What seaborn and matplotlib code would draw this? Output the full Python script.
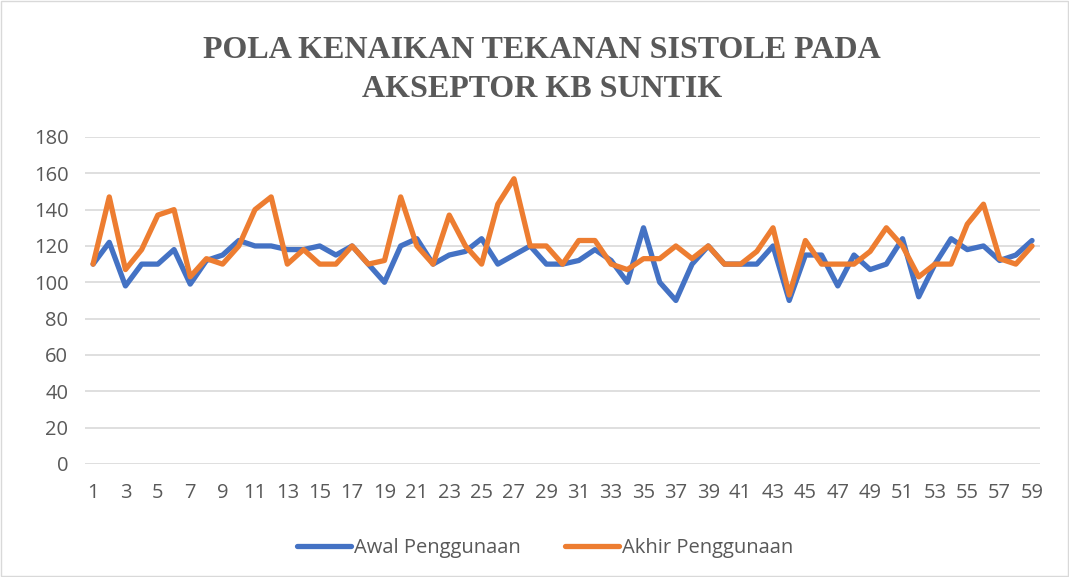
import pandas as pd
import matplotlib.pyplot as plt
import seaborn as sns
from matplotlib.patches import Rectangle

# Data
responden = list(range(1, 60))
awal = [110, 122, 98, 110, 110, 118, 99, 112, 115, 123,
        120, 120, 118, 118, 120, 115, 120, 110, 100, 120,
        124, 110, 115, 117, 124, 110, 115, 120, 110, 110,
        112, 118, 112, 100, 130, 100, 90, 110, 120, 110,
        110, 110, 120, 90, 115, 115, 98, 115, 107, 110,
        124, 92, 110, 124, 118, 120, 112, 115, 123]
akhir = [110, 147, 107, 118, 137, 140, 103, 113, 110, 120,
         140, 147, 110, 118, 110, 110, 120, 110, 112, 147,
         120, 110, 137, 120, 110, 143, 157, 120, 120, 110,
         123, 123, 110, 107, 113, 113, 120, 113, 120, 110,
         110, 117, 130, 93, 123, 110, 110, 110, 117, 130,
         120, 103, 110, 110, 132, 143, 113, 110, 120]
series_names = ['Awal Penggunaan', 'Akhir Penggunaan']
colors = ['#4472C4', '#ED7D31']

df = pd.DataFrame({'Responden': responden * 2,
                   'Tekanan': awal + akhir,
                   'Seri': [series_names[0]] * 59 + [series_names[1]] * 59})

sns.set_style('white')
plt.rcParams['font.family'] = ['Open Sans', 'DejaVu Sans']

fig = plt.figure(figsize=(10.69, 5.77), dpi=100)
ax = fig.add_axes([0.0795, 0.196, 0.8935, 0.5666])

sns.lineplot(data=df, x='Responden', y='Tekanan', hue='Seri',
             palette=colors, linewidth=3.8, ax=ax, legend=False)

ax.set_xlim(0.5, 59.5)
ax.set_ylim(0, 180)
ax.set_yticks(range(0, 181, 20))
ax.set_xticks(responden[::2])
ax.grid(axis='y', color='#D9D9D9', linewidth=1.2)
ax.set_axisbelow(True)
for s in ax.spines.values():
    s.set_visible(False)
ax.tick_params(axis='both', length=0, labelsize=14.5, labelcolor='#595959')
ax.tick_params(axis='x', pad=14)
ax.tick_params(axis='y', pad=12)
ax.set_xlabel('')
ax.set_ylabel('')

fig.suptitle('POLA KENAIKAN TEKANAN SISTOLE PADA\nAKSEPTOR KB SUNTIK',
             family='Liberation Serif', fontweight='bold', fontsize=23,
             color='#595959', x=0.507, y=0.938, linespacing=1.45)

handles = [plt.Line2D([], [], color=c, linewidth=3.8) for c in colors]
fig.legend(handles, series_names, loc='center', bbox_to_anchor=(0.51, 0.05),
           ncol=2, frameon=False, fontsize=14.5, handlelength=2.7,
           columnspacing=2.2, handletextpad=0.15, labelcolor='#595959')

fig.add_artist(Rectangle((0.001, 0.001), 0.998, 0.998, transform=fig.transFigure,
                         fill=False, edgecolor='#D9D9D9', linewidth=1))

fig.savefig('out.png', dpi=100)
